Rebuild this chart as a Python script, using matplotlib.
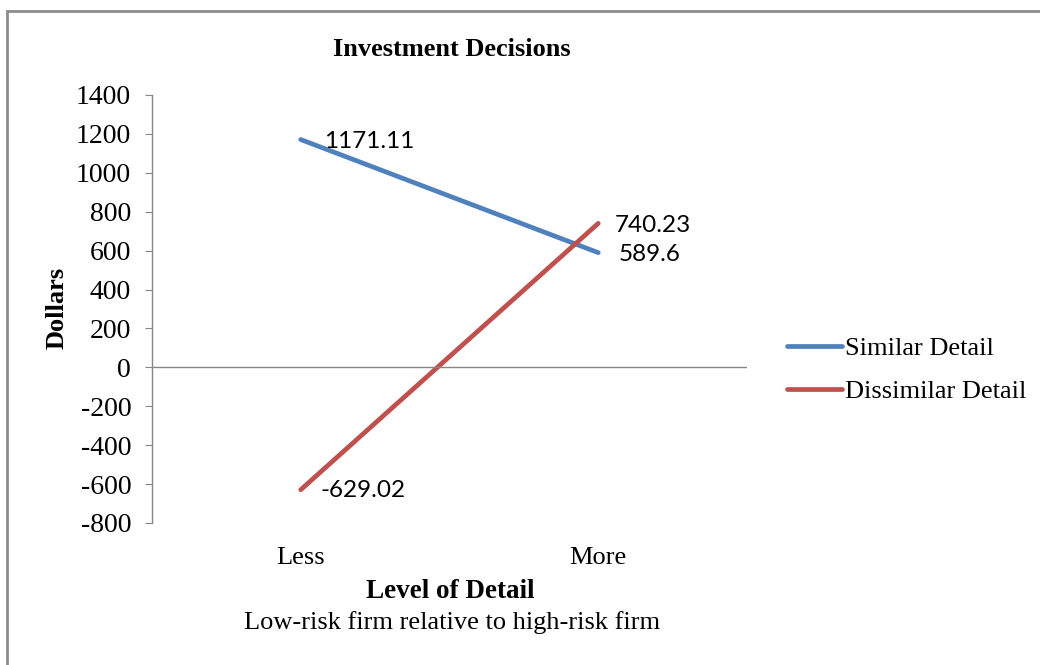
import matplotlib
matplotlib.use("Agg")
import matplotlib.pyplot as plt
from matplotlib.patches import Rectangle

# data
levels = ["Less", "More"]
similar = [1171.11, 589.6]
dissimilar = [-629.02, 740.23]
series_names = ["Similar Detail", "Dissimilar Detail"]
y_ticks = list(range(-800, 1401, 200))

serif = "Liberation Serif"
sans = "Lato"
blue = "#4F81BD"
red = "#C0504D"
grey = "#868686"

fig = plt.figure(figsize=(10.4, 6.65), dpi=100)
ax = fig.add_axes([152 / 1040, 1 - 523 / 665, (747 - 152) / 1040, (523 - 95) / 665])

# outer chart border like excel
fig.patches.append(Rectangle((7 / 1040, -0.01), 1.02, 1 - 11 / 665 + 0.01, transform=fig.transFigure,
                             fill=False, edgecolor="#8c8c8c", linewidth=2))

x = [0, 1]
l1, = ax.plot(x, similar, color=blue, linewidth=3.4, solid_capstyle="round", label=series_names[0])
l2, = ax.plot(x, dissimilar, color=red, linewidth=3.4, solid_capstyle="round", label=series_names[1])

ax.set_xlim(-0.5, 1.5)
ax.set_ylim(-800, 1400)
ax.axhline(0, color=grey, linewidth=1)

for s in ["top", "right", "bottom"]:
    ax.spines[s].set_visible(False)
ax.spines["left"].set_color(grey)
ax.spines["left"].set_linewidth(1)

ax.set_yticks(y_ticks)
ax.set_yticklabels([str(t) for t in y_ticks], fontfamily=serif, fontsize=20)
ax.tick_params(axis="y", direction="out", length=5, color=grey, pad=10)
ax.set_xticks(x)
ax.set_xticklabels(levels, fontfamily=serif, fontsize=19)
ax.tick_params(axis="x", length=0, pad=17)

# data labels
offsets = {(0, 0): (23, -2), (0, 1): (20, -2), (1, 0): (20, -1), (1, 1): (17, -2)}
for si, vals in enumerate([similar, dissimilar]):
    for xi, v in enumerate(vals):
        dx, dy = offsets[(si, xi)]
        label = f"{v:g}"
        ax.annotate(label, (xi, v), xytext=(dx, dy), textcoords="offset pixels",
                    ha="left", va="center", fontfamily=sans, fontsize=17.5)

fig.text(452 / 1040, 1 - 50 / 665, "Investment Decisions", ha="center", va="center",
         fontfamily=serif, fontweight="bold", fontsize=19)
fig.text(57 / 1040, 1 - 308 / 665, "Dollars", ha="center", va="center", rotation=90,
         fontfamily=serif, fontweight="bold", fontsize=19)
fig.text(450 / 1040, 1 - 592 / 665, "Level of Detail", ha="center", va="center",
         fontfamily=serif, fontweight="bold", fontsize=19.5)
fig.text(452 / 1040, 1 - 623 / 665, "Low-risk firm relative to high-risk firm", ha="center", va="center",
         fontfamily=serif, fontsize=19)

fig.legend(handles=[l1, l2], loc="center left", bbox_to_anchor=(763 / 1040, 1 - 370 / 665),
           frameon=False, prop={"family": serif, "size": 19}, handlelength=2.1,
           handletextpad=0.1, labelspacing=0.75)

fig.savefig("out.png", dpi=100)
